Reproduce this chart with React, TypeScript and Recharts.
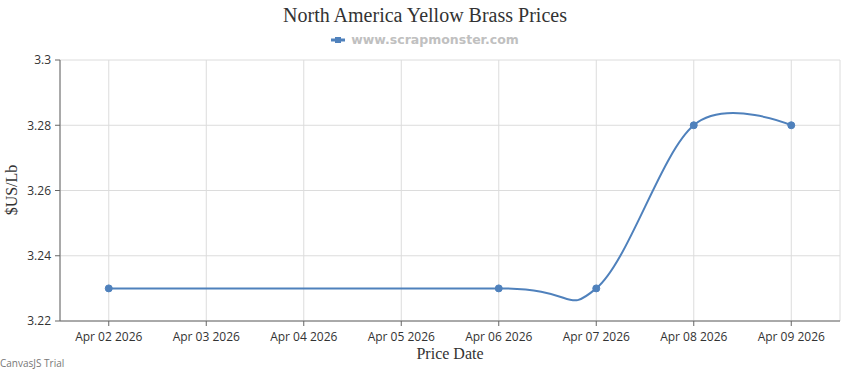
import { LineChart, Line, XAxis, YAxis, CartesianGrid } from 'recharts'

const tickLabels = [
  'Apr 02 2026',
  'Apr 03 2026',
  'Apr 04 2026',
  'Apr 05 2026',
  'Apr 06 2026',
  'Apr 07 2026',
  'Apr 08 2026',
  'Apr 09 2026'
]
const priceDates = ['Apr 02 2026', 'Apr 06 2026', 'Apr 07 2026', 'Apr 08 2026', 'Apr 09 2026']
const prices = [3.23, 3.23, 3.23, 3.28, 3.28]
const yTicks = [3.22, 3.24, 3.26, 3.28, 3.3]

const chartData = priceDates.map((d, i) => ({
  day: tickLabels.indexOf(d),
  price: prices[i]
}))

// cardinal spline (tension 0), same shape the original canvas chart uses
const cardinalCurve = (context: any) => {
  let x0 = NaN, y0 = NaN, x1 = NaN, y1 = NaN, x2 = NaN, y2 = NaN
  let pt = 0
  const k = 1 / 6
  const seg = (x: number, y: number) => {
    context.bezierCurveTo(
      x1 + k * (x2 - x0), y1 + k * (y2 - y0),
      x2 + k * (x1 - x), y2 + k * (y1 - y),
      x2, y2
    )
  }
  return {
    areaStart() {},
    areaEnd() {},
    lineStart() {
      x0 = x1 = x2 = y0 = y1 = y2 = NaN
      pt = 0
    },
    lineEnd() {
      if (pt === 2) context.lineTo(x2, y2)
      else if (pt === 3) seg(x1, y1)
    },
    point(x: number, y: number) {
      x = +x
      y = +y
      if (pt === 0) {
        pt = 1
        context.moveTo(x, y)
      } else if (pt === 1) {
        pt = 2
        x1 = x
        y1 = y
      } else {
        pt = 3
        seg(x, y)
      }
      x0 = x1; x1 = x2; x2 = x
      y0 = y1; y1 = y2; y2 = y
    }
  }
}

const blue = '#4f81bc'
const tickFont = { fontSize: 12, fill: '#333', fontFamily: '"Open Sans", sans-serif' }

export default function App() {
  return (
    <div style={{ position: 'relative', width: 850, height: 370, background: '#fff' }}>
      <style>{'body{margin:0}'}</style>
      <div
        style={{
          position: 'absolute', top: 4, left: 0, width: 850, textAlign: 'center',
          fontFamily: '"Liberation Serif", serif', fontSize: 20, color: '#333'
        }}
      >
        North America Yellow Brass Prices
      </div>
      <div
        style={{
          position: 'absolute', top: 32, left: 0, width: 850, display: 'flex',
          justifyContent: 'center', alignItems: 'center'
        }}
      >
        <svg width={15} height={10} style={{ marginRight: 5 }}>
          <line x1={0} y1={5} x2={14} y2={5} stroke={blue} strokeWidth={3} />
          <rect x={4} y={2} width={6} height={6} fill={blue} />
        </svg>
        <span
          style={{
            fontFamily: '"DejaVu Sans", sans-serif', fontWeight: 'bold', fontSize: 12.5,
            color: '#c0c0c0'
          }}
        >
          www.scrapmonster.com
        </span>
      </div>
      <div
        style={{
          position: 'absolute', left: 12, top: 190, transform: 'translate(-50%, -50%) rotate(-90deg)',
          fontFamily: '"Liberation Serif", serif', fontSize: 16, color: '#333', whiteSpace: 'nowrap'
        }}
      >
        $US/Lb
      </div>
      <div
        style={{
          position: 'absolute', left: 450, top: 354, transform: 'translate(-50%, -50%)',
          fontFamily: '"Liberation Serif", serif', fontSize: 16, color: '#333', whiteSpace: 'nowrap'
        }}
      >
        Price Date
      </div>
      <div
        style={{
          position: 'absolute', left: 0, top: 356, fontFamily: '"Open Sans", sans-serif',
          fontSize: 10, color: '#777'
        }}
      >
        CanvasJS Trial
      </div>
      <div style={{ position: 'absolute', left: 0, top: 0 }}>
        <LineChart
          width={850}
          height={370}
          data={chartData}
          margin={{ top: 60, right: 10, bottom: 0, left: 0 }}
        >
          <CartesianGrid stroke="#dcdcdc" />
          <XAxis
            dataKey="day"
            type="number"
            domain={[-0.5, 7.5]}
            ticks={tickLabels.map((_, i) => i)}
            tickFormatter={(v: number) => tickLabels[v]}
            interval={0}
            height={49}
            stroke="#666"
            tickSize={5}
            tickMargin={6}
            tick={tickFont}
          />
          <YAxis
            type="number"
            domain={[3.22, 3.3]}
            ticks={yTicks}
            width={60}
            stroke="#666"
            tickSize={5}
            tickMargin={4}
            tick={tickFont}
          />
          <Line
            dataKey="price"
            type={cardinalCurve as any}
            stroke={blue}
            strokeWidth={2}
            dot={{ r: 3.5, fill: blue, stroke: blue, strokeWidth: 1 }}
            activeDot={false}
            isAnimationActive={false}
          />
        </LineChart>
      </div>
    </div>
  )
}
